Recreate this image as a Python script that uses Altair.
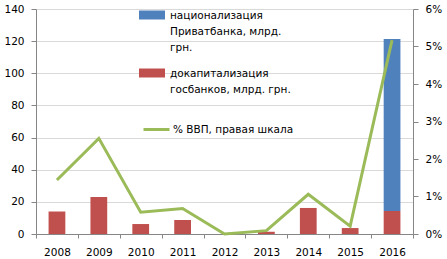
import altair as alt
import pandas as pd

years = ["2008", "2009", "2010", "2011", "2012", "2013", "2014", "2015", "2016"]
recap = [14.0, 23.0, 6.2, 8.7, 0.0, 1.4, 16.2, 3.7, 14.3]
nation = [0.0, 0.0, 0.0, 0.0, 0.0, 0.0, 0.0, 0.0, 107.0]
gdp_pct = [1.44, 2.55, 0.58, 0.68, 0.0, 0.09, 1.06, 0.21, 5.17]

s_nat = "национализация Приватбанка, млрд. грн."
s_rec = "докапитализация госбанков, млрд. грн."
s_gdp = "% ВВП, правая шкала"
nat_lines = ["национализация", "Приватбанка,  млрд.", "грн."]
rec_lines = ["докапитализация", "госбанков, млрд. грн."]

left_ticks = [0, 20, 40, 60, 80, 100, 120, 140]
right_ticks = [0, 0.01, 0.02, 0.03, 0.04, 0.05, 0.06]

FONT = "DejaVu Sans"
AX = "#868686"

rows = []
for y, r, n in zip(years, recap, nation):
    rows.append({"year": y, "series": s_rec, "value": r, "ord": 0})
    rows.append({"year": y, "series": s_nat, "value": n, "ord": 1})
bars_df = pd.DataFrame(rows)
line_df = pd.DataFrame({"year": years, "gdp": [v / 100 for v in gdp_pct]})

def arr(lines):
    return "[" + ", ".join("'" + l + "'" for l in lines) + "]"

label_expr = f"datum.label == '{s_nat}' ? {arr(nat_lines)} : {arr(rec_lines)}"

x_enc = alt.X(
    "year:N",
    sort=years,
    scale=alt.Scale(paddingInner=0, paddingOuter=0),
    axis=alt.Axis(
        title=None, labelAngle=0, tickBand="extent", tickSize=4,
        labelPadding=9, domainColor=AX, tickColor=AX,
    ),
)

bars = alt.Chart(bars_df).mark_bar(width=alt.RelativeBandSize(0.4)).encode(
    x=x_enc,
    y=alt.Y(
        "value:Q",
        stack="zero",
        scale=alt.Scale(domain=[0, 140], nice=False),
        axis=alt.Axis(
            title=None, values=left_ticks, grid=True, gridColor="#D9D9D9",
            tickSize=5, labelPadding=7, domainColor=AX, tickColor=AX,
        ),
    ),
    color=alt.Color(
        "series:N",
        scale=alt.Scale(domain=[s_nat, s_rec], range=["#4F81BD", "#C0504D"]),
        legend=alt.Legend(
            title=None, orient="none", legendX=106, legendY=-8,
            symbolType="M-1.3,-0.05H1.3V0.85H-1.3Z", symbolSize=400,
            symbolStrokeWidth=0, labelExpr=label_expr, rowPadding=5,
            labelOffset=8, labelBaseline="top", labelFontSize=10.5,
        ),
    ),
    order=alt.Order("ord:Q"),
)

line = alt.Chart(line_df).mark_line(strokeWidth=3).encode(
    x=x_enc,
    y=alt.Y(
        "gdp:Q",
        scale=alt.Scale(domain=[0, 0.06], nice=False),
        axis=alt.Axis(
            title=None, orient="right", values=right_ticks, format=".0%",
            grid=False, tickSize=5, labelPadding=7, domainColor=AX, tickColor=AX,
        ),
    ),
    stroke=alt.Stroke(
        "s:N",
        scale=alt.Scale(domain=[s_gdp], range=["#9BBB59"]),
        legend=alt.Legend(
            title=None, orient="none", legendX=106, legendY=106,
            symbolType="stroke", symbolSize=676, symbolStrokeWidth=3,
            labelOffset=2, labelFontSize=10.5,
        ),
    ),
).transform_calculate(s=f"'{s_gdp}'")

chart = (
    alt.layer(bars, line)
    .resolve_scale(y="independent")
    .properties(
        width=377, height=225,
        autosize=alt.AutoSizeParams(type="none"),
        padding={"left": 36, "top": 9, "right": 34, "bottom": 25},
        background="white",
    )
    .configure(style={"guide-label": {"lineHeight": 16}})
    .configure_view(stroke=None)
    .configure_axis(labelFont=FONT, labelFontSize=10.5, labelColor="#000000")
    .configure_legend(labelFont=FONT, labelColor="#000000", labelLimit=300)
)

chart.save("out.html", embed_options={"renderer": "svg", "actions": False})
